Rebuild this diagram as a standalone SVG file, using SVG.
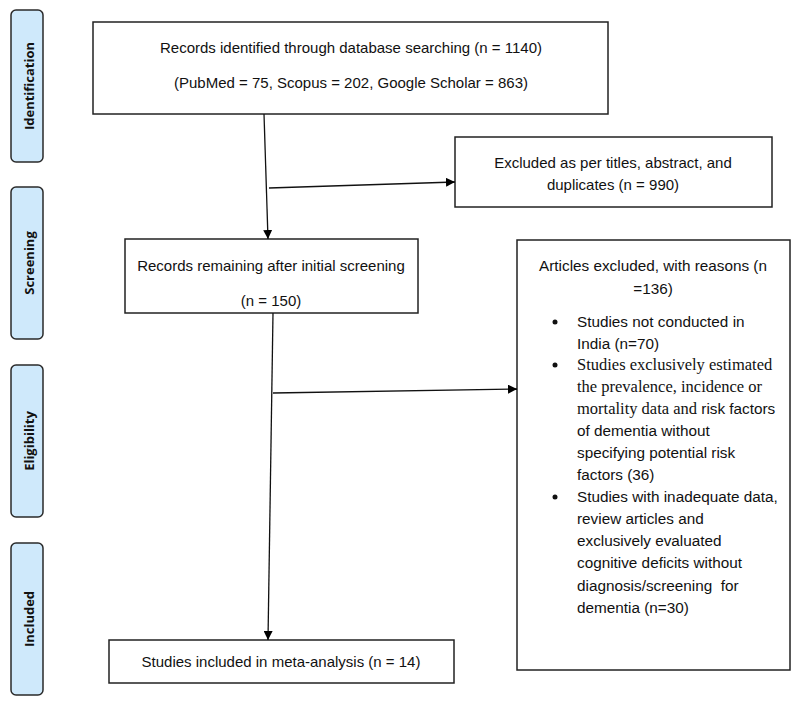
<svg xmlns="http://www.w3.org/2000/svg" width="800" height="705" viewBox="0 0 800 705">
<defs>
<marker id="arr" viewBox="0 0 10 10" refX="10" refY="5" markerWidth="9" markerHeight="9" markerUnits="userSpaceOnUse" orient="auto">
<path d="M0,0 L10,5 L0,10 Z" fill="#000"/>
</marker>
<style>
.stage{fill:#cfe9fb;stroke:#2a2a2a;stroke-width:1.5}
.stxt{font-family:"Open Sans","Liberation Sans",sans-serif;font-weight:700;font-size:13px;fill:#111;text-anchor:middle}
.box{fill:#fff;stroke:#222;stroke-width:1.5}
.t{font-family:"Liberation Sans",Arial,sans-serif;font-size:15px;fill:#111}
.a{font-size:15.3px}
.c{text-anchor:middle}
.serif{font-family:"Liberation Serif","Times New Roman",serif;font-size:16.5px}
.conn{stroke:#111;stroke-width:1.3;fill:none}
</style>
</defs>
<rect width="800" height="705" fill="#fff"/>

<g id="stage-identification">
<rect class="stage" x="11" y="10" width="32" height="152" rx="5"/>
<text class="stxt" transform="translate(33.5,86) rotate(-90)">Identification</text>
</g>
<g id="stage-screening">
<rect class="stage" x="11" y="187" width="32" height="152" rx="5"/>
<text class="stxt" transform="translate(33.5,263) rotate(-90)">Screening</text>
</g>
<g id="stage-eligibility">
<rect class="stage" x="11" y="365" width="32" height="152" rx="5"/>
<text class="stxt" transform="translate(33.5,441) rotate(-90)">Eligibility</text>
</g>
<g id="stage-included">
<rect class="stage" x="11" y="543" width="32" height="152" rx="5"/>
<text class="stxt" transform="translate(33.5,619) rotate(-90)">Included</text>
</g>

<g id="node-identified">
<rect class="box" x="93" y="22" width="515" height="92"/>
<text class="t c" x="351" y="53">Records identified through database searching (n = 1140)</text>
<text class="t c" x="351" y="88">(PubMed = 75, Scopus = 202, Google Scholar = 863)</text>
</g>

<g id="node-excluded1">
<rect class="box" x="455" y="137" width="317" height="70"/>
<text class="t c" x="613" y="168">Excluded as per titles, abstract, and</text>
<text class="t c" x="613" y="190">duplicates (n = 990)</text>
</g>

<g id="node-screened">
<rect class="box" x="125" y="239" width="293" height="74"/>
<text class="t c" x="271" y="271">Records remaining after initial screening</text>
<text class="t c" x="271" y="306">(n = 150)</text>
</g>

<g id="node-excluded2">
<rect class="box" x="517" y="240" width="273" height="430"/>
<text class="t a c" x="653" y="271">Articles excluded, with reasons (n</text>
<text class="t a c" x="653" y="294">=136)</text>
<circle cx="555" cy="322" r="2.5" fill="#111"/>
<text class="t a" x="577" y="327">Studies not conducted in</text>
<text class="t a" x="577" y="349">India (n=70)</text>
<circle cx="555" cy="365" r="2.5" fill="#111"/>
<text class="t serif" x="577" y="370">Studies exclusively estimated</text>
<text class="t serif" x="577" y="392">the prevalence, incidence or</text>
<text class="t a" x="577" y="414"><tspan class="serif">mortality data and</tspan> risk factors</text>
<text class="t a" x="577" y="436">of dementia without</text>
<text class="t a" x="577" y="458">specifying potential risk</text>
<text class="t a" x="577" y="480">factors (36)</text>
<circle cx="555" cy="497" r="2.5" fill="#111"/>
<text class="t a" x="577" y="502">Studies with inadequate data,</text>
<text class="t a" x="577" y="524">review articles and</text>
<text class="t a" x="577" y="546">exclusively evaluated</text>
<text class="t a" x="577" y="568">cognitive deficits without</text>
<text class="t a" x="577" y="591" xml:space="preserve">diagnosis/screening  for</text>
<text class="t a" x="577" y="613">dementia (n=30)</text>
</g>

<g id="node-included">
<rect class="box" x="109" y="640" width="345" height="43"/>
<text class="t c" x="281" y="667">Studies included in meta-analysis (n = 14)</text>
</g>

<g id="connectors">
<line class="conn" x1="264" y1="114" x2="268" y2="239" marker-end="url(#arr)"/>
<line class="conn" x1="269" y1="188" x2="455" y2="182" marker-end="url(#arr)"/>
<line class="conn" x1="273" y1="313" x2="268" y2="640" marker-end="url(#arr)"/>
<line class="conn" x1="273" y1="393" x2="517" y2="389" marker-end="url(#arr)"/>
</g>
</svg>
